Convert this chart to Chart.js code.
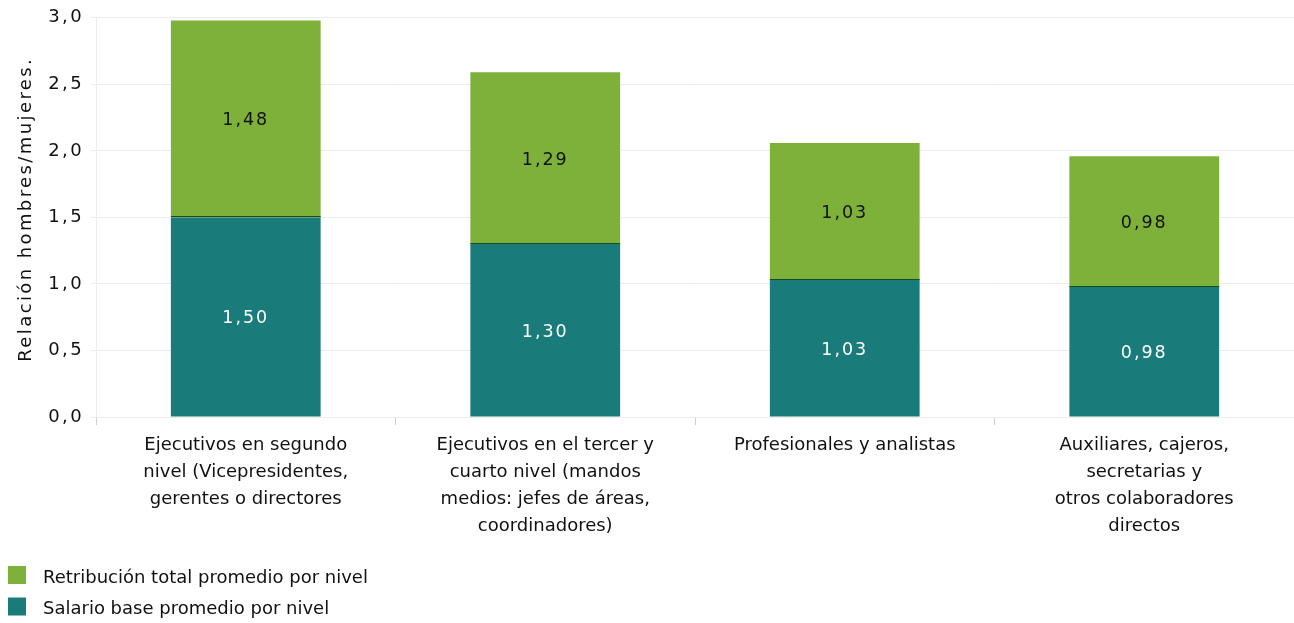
<!DOCTYPE html>
<html><head><meta charset="utf-8">
<script src="https://cdn.jsdelivr.net/npm/chart.js@4.4.1/dist/chart.umd.min.js"></script>
<style>html,body{margin:0;padding:0;background:#fff;}canvas{display:block;}</style>
</head><body>
<canvas id="c" width="1294" height="623"></canvas>
<script>
const categories = [
  ["Ejecutivos en segundo", "nivel (Vicepresidentes,", "gerentes o directores"],
  ["Ejecutivos en el tercer y", "cuarto nivel (mandos", "medios: jefes de áreas,", "coordinadores)"],
  ["Profesionales y analistas"],
  ["Auxiliares, cajeros,", "secretarias y", "otros colaboradores", "directos"]
];
const salarioBase = [1.50, 1.30, 1.03, 0.98];
const retribucionTotal = [1.48, 1.29, 1.03, 0.98];
const yTickLabels = ["0,0", "0,5", "1,0", "1,5", "2,0", "2,5", "3,0"];
const seriesNames = ["Salario base promedio por nivel", "Retribución total promedio por nivel"];
const yTitle = "Relación hombres/mujeres.";

const FONT = "'DejaVu Sans', sans-serif";
const TEAL = '#1a7b7b', GREEN = '#7db13a';

const fmt = v => v.toFixed(2).replace('.', ',');

const spacingPlugin = {
  id: 'spacing',
  beforeDraw(chart) { chart.ctx.letterSpacing = '2.4px'; },
  beforeDatasetsDraw(chart) { chart.ctx.letterSpacing = '0px'; }
};

const labelsPlugin = {
  id: 'barLabels',
  afterDatasetsDraw(chart) {
    const ctx = chart.ctx;
    ctx.save();
    // dark separator at the top of the base segment
    const base = chart.getDatasetMeta(0);
    ctx.fillStyle = '#174d1c';
    base.data.forEach(bar => {
      const p = bar.getProps(['x', 'y', 'width'], true);
      ctx.fillRect(p.x - p.width / 2, Math.round(p.y) - 1, p.width, 1);
    });
    ctx.letterSpacing = '2px';
    ctx.font = "17.5px " + FONT;
    ctx.textAlign = 'center';
    ctx.textBaseline = 'middle';
    chart.data.datasets.forEach((ds, di) => {
      const meta = chart.getDatasetMeta(di);
      meta.data.forEach((bar, i) => {
        const p = bar.getProps(['x', 'y', 'base'], true);
        ctx.fillStyle = di === 0 ? '#ffffff' : '#111111';
        ctx.fillText(fmt(ds.data[i]), p.x, (p.y + p.base) / 2 + 2);
      });
    });
    ctx.restore();
  }
};

const legendPlugin = {
  id: 'customLegend',
  afterDraw(chart) {
    const ctx = chart.ctx;
    ctx.save();
    ctx.letterSpacing = '0px';
    ctx.font = "18px " + FONT;
    ctx.textBaseline = 'middle';
    ctx.textAlign = 'left';
    const items = chart.data.datasets.slice().reverse();
    items.forEach((ds, k) => {
      const y = 575 + k * 31.5;
      ctx.fillStyle = ds.backgroundColor;
      ctx.fillRect(8, y - 9, 18, 18);
      ctx.fillStyle = '#111';
      ctx.fillText(ds.label, 43, y + 3);
    });
    ctx.restore();
  }
};

new Chart(document.getElementById('c'), {
  type: 'bar',
  data: {
    labels: categories,
    datasets: [
      { label: seriesNames[0], data: salarioBase, backgroundColor: TEAL, borderWidth: 0 },
      { label: seriesNames[1], data: retribucionTotal, backgroundColor: GREEN, borderWidth: 0 }
    ]
  },
  options: {
    responsive: false,
    animation: false,
    devicePixelRatio: 1,
    layout: { padding: { top: 17, right: 0, left: 0, bottom: 0 } },
    plugins: { legend: { display: false }, tooltip: { enabled: false } },
    datasets: { bar: { barPercentage: 0.5, categoryPercentage: 1.0 } },
    scales: {
      x: {
        stacked: true,
        afterFit(s) { s.height = 206; },
        grid: { display: true, drawOnChartArea: false, offset: true, tickLength: 8, color: '#d0d0d0' },
        border: { display: true, color: '#ececec' },
        ticks: { z: 1, color: '#111', font: { family: FONT, size: 18, lineHeight: 1.5 }, padding: 7, maxRotation: 0, autoSkip: false }
      },
      y: {
        stacked: true,
        min: 0, max: 3,
        afterFit(s) { s.width = 96; },
        ticks: { stepSize: 0.5, color: '#111', font: { family: FONT, size: 18 }, padding: 7,
          callback: (v, i) => yTickLabels[i] },
        grid: { color: '#ececec', tickLength: 5, drawTicks: true },
        border: { display: true, color: '#ececec' },
        title: { display: true, text: "\u00a0\u00a0" + yTitle, color: '#111', font: { family: FONT, size: 18 }, padding: { top: 16, bottom: 0 } }
      }
    }
  },
  plugins: [spacingPlugin, labelsPlugin, legendPlugin]
});
</script>
</body></html>
